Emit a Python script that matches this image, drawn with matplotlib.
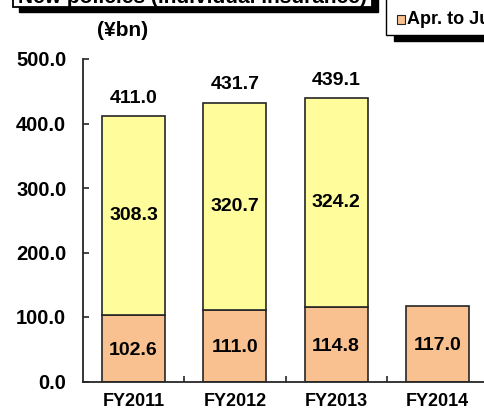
import matplotlib
matplotlib.use("Agg")
import matplotlib.pyplot as plt
from matplotlib.patches import Rectangle
import numpy as np

plt.rcParams["font.family"] = ["Liberation Sans", "DejaVu Sans"]
plt.rcParams["font.weight"] = "bold"

# data
categories = ["FY2011", "FY2012", "FY2013", "FY2014"]
apr_to_jun = [102.6, 111.0, 114.8, 117.0]
jul_to_mar = [308.3, 320.7, 324.2, np.nan]
full_year = [411.0, 431.7, 439.1, np.nan]
y_ticks = [0, 100, 200, 300, 400, 500]

ORANGE = "#F9C18F"
YELLOW = "#FFFC9C"
EDGE = "#262626"

W, H = 484, 413
fig = plt.figure(figsize=(W / 100, H / 100), dpi=100)
fig.patch.set_facecolor("white")

def px(x, y):
    # pixel coords (from top-left) -> figure fraction
    return x / W, 1 - y / H

ax = fig.add_axes([83 / W, (H - 381.5) / H, 405 / W, 322.5 / H])
x = np.arange(len(categories))
bw = 0.62

ax.bar(x, apr_to_jun, bw, color=ORANGE, edgecolor=EDGE, linewidth=1.2, zorder=2)
ax.bar(x, jul_to_mar, bw, bottom=apr_to_jun, color=YELLOW, edgecolor=EDGE,
       linewidth=1.2, zorder=2)

for i in range(len(categories)):
    ax.text(x[i], apr_to_jun[i] / 2 - 3, f"{apr_to_jun[i]:.1f}", ha="center",
            va="center", fontsize=14, fontweight="bold")
    if not np.isnan(jul_to_mar[i]):
        ax.text(x[i], apr_to_jun[i] + jul_to_mar[i] / 2, f"{jul_to_mar[i]:.1f}",
                ha="center", va="center", fontsize=14, fontweight="bold")
        ax.annotate(f"{full_year[i]:.1f}", (x[i], full_year[i]), xytext=(0, 13),
                    textcoords="offset points", ha="center", va="center",
                    fontsize=14, fontweight="bold")

ax.set_xlim(-0.5, 3.5)
ax.set_ylim(0, 500)
ax.set_yticks(y_ticks)
ax.set_yticklabels([f"{v:.1f}" for v in y_ticks], fontsize=14.5, fontweight="bold")
ax.set_xticks(x)
ax.set_xticklabels(categories, fontsize=13, fontweight="bold")
ax.set_xticks([0.5, 1.5, 2.5], minor=True)
ax.tick_params(axis="x", which="major", length=0, pad=8)
ax.tick_params(axis="x", which="minor", direction="in", length=4, width=1.2, color=EDGE)
ax.tick_params(axis="y", direction="in", length=4, width=1.2, color=EDGE, pad=12)
for s in ["top", "right"]:
    ax.spines[s].set_visible(False)
for s in ["left", "bottom"]:
    ax.spines[s].set_color(EDGE)
    ax.spines[s].set_linewidth(1.3)
ax.set_facecolor("none")

# unit label
fig.text(*px(123, 31), "(¥bn)", ha="center", va="center", fontsize=15,
         fontweight="bold")

# title box (cut off at the top of the picture)
sx, sy = 6 / W, 5 / H
x0, y0 = px(13, 7)
fig.patches.append(Rectangle((x0 + sx, y0 - sy), 359 / W, 60 / H,
                             transform=fig.transFigure, facecolor="black",
                             edgecolor="black", zorder=1))
fig.patches.append(Rectangle((x0, y0), 359 / W, 60 / H, transform=fig.transFigure,
                             facecolor="white", edgecolor="black", linewidth=1.3,
                             zorder=2))
fig.text(*px(192, 3), "New policies (individual insurance)", ha="center",
         va="baseline", fontsize=15, fontweight="bold", zorder=3)

# legend box (cut off at the right)
lx, ly = px(386, 34.5)
fig.patches.append(Rectangle((lx + 8 / W, ly - 6 / H), 200 / W, 60 / H,
                             transform=fig.transFigure, facecolor="black",
                             edgecolor="black", zorder=1))
fig.patches.append(Rectangle((lx, ly), 200 / W, 60 / H, transform=fig.transFigure,
                             facecolor="white", edgecolor="black", linewidth=1.0,
                             zorder=2))
mx, my = px(397, 24)
fig.patches.append(Rectangle((mx, my), 8 / W, 9 / H, transform=fig.transFigure,
                             facecolor=ORANGE, edgecolor=EDGE, linewidth=0.8,
                             zorder=3))
fig.text(*px(407, 20), "Apr. to June", ha="left", va="center", fontsize=13,
         fontweight="bold", zorder=3)

fig.savefig("out.png", dpi=100, facecolor="white")
